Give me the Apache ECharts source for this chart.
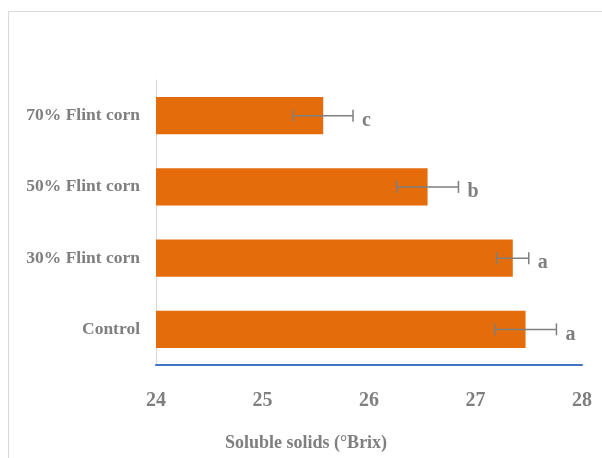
<!DOCTYPE html>
<html>
<head>
<meta charset="utf-8">
<script src="https://cdn.jsdelivr.net/npm/echarts@6/dist/echarts.min.js"></script>
<style>
  html, body { margin: 0; padding: 0; background: #ffffff; }
  #chart { width: 602px; height: 458px; }
</style>
</head>
<body>
<div id="chart"></div>
<script>
// Soluble solids (°Brix) by flint corn proportion
const categories = ['Control', '30% Flint corn', '50% Flint corn', '70% Flint corn'];
const brix = [27.47, 27.35, 26.55, 25.57];
const brixError = [0.29, 0.15, 0.29, 0.28];
const letters = ['a', 'a', 'b', 'c'];
const xTicks = { min: 24, max: 28, interval: 1 };
const xTitle = 'Soluble solids (°Brix)';

const textGray = '#7f7f7f';
const serif = "'Liberation Serif', 'Times New Roman', serif";

const errorData = categories.map((c, i) => [i, brix[i], brixError[i], letters[i]]);

const chart = echarts.init(document.getElementById('chart'));
chart.setOption({
  animation: false,
  backgroundColor: '#ffffff',
  graphic: [{
    type: 'rect',
    silent: true,
    shape: { x: 8.5, y: 11.5, width: 700, height: 600 },
    style: { fill: 'none', stroke: '#d9d9d9', lineWidth: 1 }
  }],
  grid: { left: 156, right: 20, top: 80, bottom: 93, containLabel: false, outerBoundsMode: 'none' },
  xAxis: {
    type: 'value',
    min: xTicks.min,
    max: xTicks.max,
    interval: xTicks.interval,
    splitLine: { show: false },
    axisTick: { show: false },
    axisLine: { show: true, onZero: false, lineStyle: { color: '#4472c4', width: 2 } },
    axisLabel: {
      margin: 26,
      color: textGray,
      fontFamily: serif,
      fontWeight: 'bold',
      fontSize: 20
    },
    name: xTitle,
    nameLocation: 'middle',
    nameGap: 69,
    nameTextStyle: {
      color: textGray,
      fontFamily: serif,
      fontWeight: 'bold',
      fontSize: 18,
      padding: [0, 126, 0, 0]
    }
  },
  yAxis: {
    type: 'category',
    data: categories,
    axisTick: { show: false },
    axisLine: { show: true, lineStyle: { color: '#d9d9d9', width: 1 } },
    axisLabel: {
      margin: 16,
      color: textGray,
      fontFamily: serif,
      fontWeight: 'bold',
      fontSize: 17.5
    }
  },
  series: [
    {
      type: 'bar',
      data: brix,
      barCategoryGap: '48%',
      itemStyle: { color: '#e46c0a' },
      z: 2
    },
    {
      type: 'custom',
      data: errorData,
      encode: { x: 1, y: 0 },
      z: 3,
      renderItem: function (params, api) {
        const idx = api.value(0);
        const v = api.value(1);
        const e = api.value(2);
        const lo = api.coord([v - e, idx]);
        const hi = api.coord([v + e, idx]);
        const y = lo[1];
        const cap = 6;
        const lineStyle = { stroke: '#7f7f7f', lineWidth: 1.5 };
        return {
          type: 'group',
          children: [
            { type: 'line', shape: { x1: lo[0], y1: y, x2: hi[0], y2: y }, style: lineStyle },
            { type: 'line', shape: { x1: lo[0], y1: y - cap, x2: lo[0], y2: y + cap }, style: lineStyle },
            { type: 'line', shape: { x1: hi[0], y1: y - cap, x2: hi[0], y2: y + cap }, style: lineStyle },
            {
              type: 'text',
              style: {
                text: api.value(3),
                x: hi[0] + 9,
                y: y + 5,
                fill: textGray,
                font: 'bold 20px ' + serif,
                textAlign: 'left',
                textVerticalAlign: 'middle'
              }
            }
          ]
        };
      }
    }
  ]
});
</script>
</body>
</html>
